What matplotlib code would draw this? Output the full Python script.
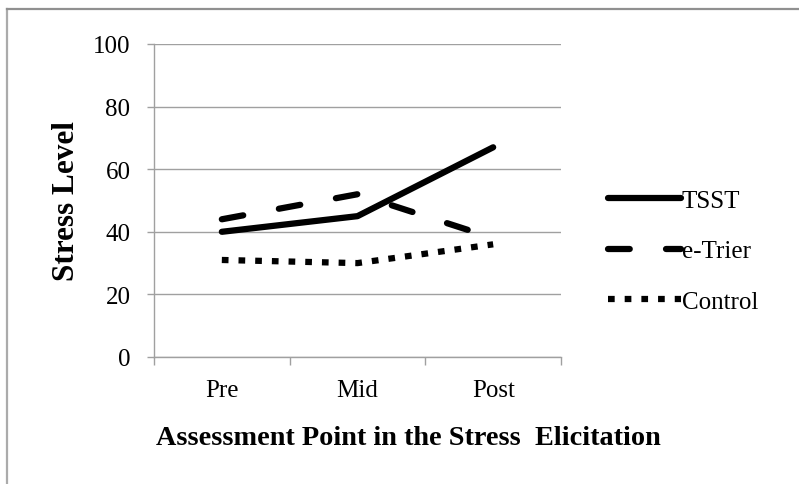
import matplotlib
matplotlib.use("Agg")
import matplotlib.pyplot as plt
from matplotlib.lines import Line2D
import numpy as np

categories = ["Pre", "Mid", "Post"]
tsst = [40, 45, 67]
etrier = [44, 52, 38]
control = [31, 30, 36]
yticks = [0, 20, 40, 60, 80, 100]
series_names = ["TSST", "e-Trier", "Control"]

plt.rcParams['font.family'] = ['Liberation Serif', 'DejaVu Serif']

W, H = 799, 485
fig = plt.figure(figsize=(W / 100, H / 100), dpi=100)
ax = fig.add_axes([154 / W, 1 - 358 / H, (561 - 154) / W, (358 - 45) / H])

grey = "#A0A0A0"
x = np.arange(len(categories))
lw = 4.5
l1, = ax.plot(x, tsst, color="black", lw=lw, solid_capstyle="round", solid_joinstyle="round", label=series_names[0])
l2, = ax.plot(x, etrier, color="black", lw=lw, dash_capstyle="round", solid_joinstyle="round",
              dashes=(3.48, 5.8), label=series_names[1])
l3, = ax.plot(x, control, color="black", lw=lw, dash_capstyle="butt",
              dashes=(1.07, 1.6), label=series_names[2])

ax.set_xlim(-0.5, len(categories) - 0.5)
ax.set_ylim(0, 100)
ax.set_yticks(yticks)
ax.set_yticklabels([str(v) for v in yticks], fontsize=18)
ax.yaxis.grid(True, color=grey, lw=1.0)
ax.set_axisbelow(True)

# category ticks on boundaries, labels at centers
ax.set_xticks(np.arange(-0.5, len(categories), 1.0))
ax.set_xticklabels([])
ax.set_xticks(x, minor=True)
ax.set_xticklabels(categories, minor=True, fontsize=18)
ax.tick_params(axis="x", which="minor", length=0, pad=16)
ax.tick_params(axis="x", which="major", length=6, width=1, color=grey, direction="out")
ax.tick_params(axis="y", length=5, width=1, color=grey, direction="out", pad=12)

for s in ["top", "right"]:
    ax.spines[s].set_visible(False)
for s in ["left", "bottom"]:
    ax.spines[s].set_color(grey)
    ax.spines[s].set_linewidth(1.0)

ax.set_ylabel("Stress Level", fontsize=22.5, fontweight="bold", va="center")
ax.yaxis.set_label_coords((66 - 154) / (561 - 154), 0.5)
fig.text(408 / W, 1 - 445 / H, "Assessment Point in the Stress  Elicitation",
         fontsize=20.3, fontweight="bold", ha="center", va="baseline")

leg = ax.legend(handles=[l1, l2, l3], loc="center left", bbox_to_anchor=(608 / W, 1 - 252 / H),
                bbox_transform=fig.transFigure, frameon=False, fontsize=18,
                handlelength=2.9, handletextpad=0.05, labelspacing=1.13, borderpad=0,
                borderaxespad=0)

# outer border of chart area
fig.add_artist(Line2D([7 / W, 7 / W], [0, 1 - 9.5 / H], transform=fig.transFigure, color="#ABABAB", lw=1.6))
fig.add_artist(Line2D([7 / W, 1], [1 - 9.5 / H, 1 - 9.5 / H], transform=fig.transFigure, color="#909090", lw=1.6))

fig.savefig("out.png", dpi=100)
